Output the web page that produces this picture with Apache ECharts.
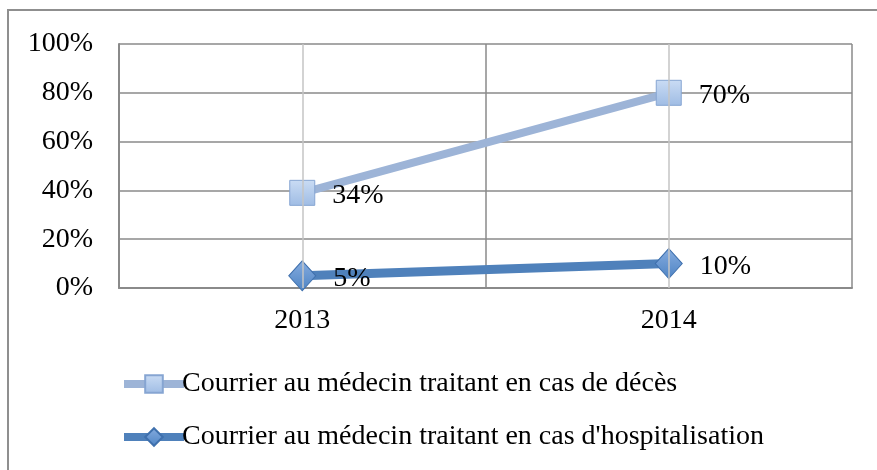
<!DOCTYPE html>
<html>
<head>
<meta charset="utf-8">
<script src="https://cdn.jsdelivr.net/npm/echarts@6/dist/echarts.min.js"></script>
<style>
  html, body { margin: 0; padding: 0; background: #fff; }
  #container { width: 877px; height: 470px; }
</style>
</head>
<body>
<div id="container"></div>
<script>
var years = ['2013', '2014'];
var deathValues = [39, 80];
var deathLabels = ['34%', '70%'];
var hospValues = [5, 10];
var hospLabels = ['5%', '10%'];
var seriesNames = [
  'Courrier au médecin traitant en cas de décès',
  "Courrier au médecin traitant en cas d'hospitalisation"
];

window.onload = function() {

var chartDom = document.getElementById('container');
var myChart = echarts.init(chartDom);
var option;

var font = 'Liberation Serif';
var fs = 28;

function grad(top, bottom) {
  return new echarts.graphic.LinearGradient(0, 0, 0, 1, [
    { offset: 0, color: top },
    { offset: 1, color: bottom }
  ]);
}

option = {
  animation: false,
  textStyle: { fontFamily: font },
  graphic: [
    {
      type: 'rect',
      shape: { x: 8, y: 10, width: 900, height: 500 },
      style: { fill: 'none', stroke: '#8f8f8f', lineWidth: 2 },
      silent: true
    }
  ],
  grid: {
    left: 119,
    right: 25,
    top: 44,
    height: 244
  },
  legend: {
    orient: 'vertical',
    left: 120,
    top: 370,
    padding: 0,
    itemWidth: 60,
    itemHeight: 22,
    itemGap: 25,
    lineStyle: { width: 8 },
    textStyle: { fontFamily: font, fontSize: fs, color: '#000', padding: [0, 0, 0, -7] },
    data: seriesNames
  },
  xAxis: {
    type: 'category',
    data: years,
    axisLine: { lineStyle: { color: '#8a8a8a', width: 2 } },
    axisTick: { show: false },
    axisLabel: { fontFamily: font, fontSize: fs, color: '#000', margin: 19 },
    splitLine: { show: true, lineStyle: { color: '#8a8a8a', width: 1.5 } }
  },
  yAxis: {
    type: 'value',
    min: 0,
    max: 100,
    interval: 20,
    axisLine: { show: true, lineStyle: { color: '#8a8a8a', width: 2 } },
    axisTick: { show: false },
    axisLabel: {
      fontFamily: font, fontSize: fs, color: '#000', margin: 26,
      formatter: '{value}%'
    },
    splitLine: { lineStyle: { color: '#8a8a8a', width: 1.5 } }
  },
  series: [
    {
      type: 'line',
      name: '_grid',
      data: [],
      z: 1,
      silent: true,
      markLine: {
        silent: true,
        symbol: 'none',
        label: { show: false },
        lineStyle: { color: '#c4c4c4', width: 1.5, type: 'solid' },
        data: years.map(function(y) { return { xAxis: y }; })
      }
    },
    {
      name: seriesNames[0],
      type: 'line',
      z: 3,
      data: deathValues,
      symbol: 'rect',
      symbolSize: 25,
      lineStyle: { color: '#9db4d7', width: 8 },
      itemStyle: { color: grad('#cadcf4', '#9fbce4'), borderColor: '#86a5d2', borderWidth: 1 },
      label: {
        show: true,
        position: 'right',
        distance: 17,
        offset: [0, 3],
        fontFamily: font,
        fontSize: fs,
        color: '#000',
        formatter: function(p) { return deathLabels[p.dataIndex]; }
      }
    },
    {
      name: seriesNames[1],
      type: 'line',
      z: 3,
      data: hospValues,
      symbol: 'diamond',
      symbolSize: [27, 30],
      lineStyle: { color: '#4f81bb', width: 9 },
      itemStyle: { color: grad('#86acdf', '#4e84c4'), borderColor: '#3f70ad', borderWidth: 1 },
      label: {
        show: true,
        position: 'right',
        distance: 17,
        offset: [0, 3],
        fontFamily: font,
        fontSize: fs,
        color: '#000',
        formatter: function(p) { return hospLabels[p.dataIndex]; }
      }
    }
  ]
};

option && myChart.setOption(option);

}
</script>
</body>
</html>
